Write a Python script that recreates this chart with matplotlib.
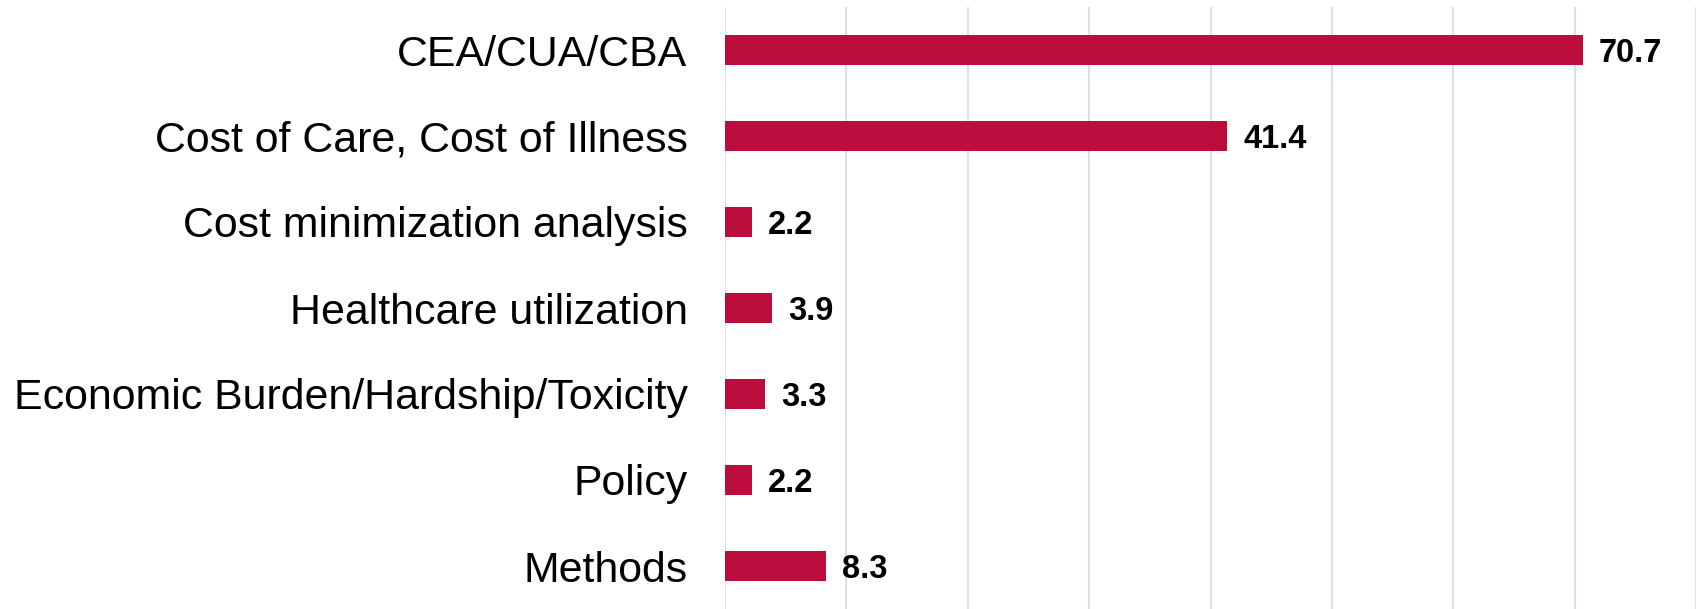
import matplotlib.pyplot as plt

categories = ['CEA/CUA/CBA', 'Cost of Care, Cost of Illness', 'Cost minimization analysis',
              'Healthcare utilization', 'Economic Burden/Hardship/Toxicity', 'Policy', 'Methods']
values = [70.7, 41.4, 2.2, 3.9, 3.3, 2.2, 8.3]

plt.rcParams['font.family'] = ['Liberation Sans', 'DejaVu Sans']

fig = plt.figure(figsize=(16.96, 6.09), dpi=100)
ax = fig.add_axes([725 / 1696, 0, 1 - 725 / 1696, 602 / 609])

pos = list(range(len(categories)))
ax.barh(pos, values, height=0.36, color='#BC0E3D', zorder=2)
for p, v in zip(pos, values):
    ax.text(v + 1.3, p + 0.04, f'{v:.1f}', va='center', ha='left',
            fontsize=23.5, fontweight='bold', color='black')

ax.set_xlim(0, 80)
ax.set_ylim(len(categories) - 0.5, -0.5)
ax.set_xticks(range(0, 81, 10))
ax.set_yticks(pos)
ax.set_yticklabels(categories, fontsize=30.9)
ax.tick_params(axis='y', length=0, pad=27)
ax.tick_params(axis='x', length=0, labelbottom=False)
ax.grid(axis='x', color='#E0E0E0', linewidth=1.5, zorder=0)
for s in ax.spines.values():
    s.set_visible(False)

fig.savefig('out.png', dpi=100)
